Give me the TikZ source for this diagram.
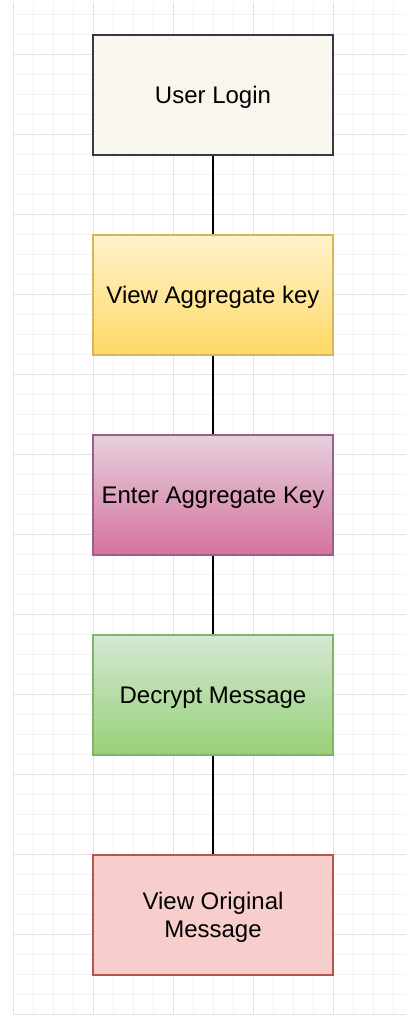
\documentclass[tikz,border=0pt]{standalone}
\usepackage{fontspec}
\setmainfont{Liberation Sans}
\usepackage{tikz}

\definecolor{minorgrid}{HTML}{F3F3F3}
\definecolor{majorgrid}{HTML}{E2E2E2}

\begin{document}
\begin{tikzpicture}[x = 1pt, y = -1pt,
        stepbox/.style = {draw, line width = 1.6pt, minimum width = 240pt,
            minimum height = 120pt, align = center, inner sep = 0pt,
            text depth = 0pt,
            font = \fontsize{24}{28}\selectfont},
        link/.style = {line width = 1.6pt, black}]
        \useasboundingbox (0,0) rectangle (406,1017);

        % background grid
        \foreach \x in {13,33,...,393}
            \draw [minorgrid, line width = 1pt] (\x,2) -- (\x,1015);
        \foreach \y in {14,34,...,1014}
            \draw [minorgrid, line width = 1pt] (13,\y) -- (406,\y);
        \foreach \x in {13,93,...,333}
            \draw [majorgrid, line width = 1pt] (\x,2) -- (\x,1015);
        \foreach \y in {54,134,...,1014}
            \draw [majorgrid, line width = 1pt] (13,\y) -- (406,\y);

        % steps
        \node [stepbox, draw = {rgb,255:red,54;green,57;blue,61},
               fill = {rgb,255:red,249;green,247;blue,237}]
              (login) at (213,95) {User Login};
        \node [stepbox, draw = {rgb,255:red,214;green,182;blue,86},
               top color = {rgb,255:red,255;green,242;blue,204},
               bottom color = {rgb,255:red,255;green,217;blue,102}]
              (viewkey) at (213,295) {View Aggregate key};
        \node [stepbox, draw = {rgb,255:red,153;green,97;blue,133},
               top color = {rgb,255:red,230;green,208;blue,222},
               bottom color = {rgb,255:red,213;green,115;blue,157}]
              (enterkey) at (213,495) {Enter Aggregate Key};
        \node [stepbox, draw = {rgb,255:red,130;green,179;blue,102},
               top color = {rgb,255:red,213;green,232;blue,212},
               bottom color = {rgb,255:red,151;green,208;blue,119}]
              (decrypt) at (213,695) {Decrypt Message};
        \node [stepbox, draw = {rgb,255:red,184;green,84;blue,80},
               fill = {rgb,255:red,248;green,206;blue,204}]
              (original) at (213,915) {View Original\\Message};

        % connectors
        \draw [link] (login) -- (viewkey);
        \draw [link] (viewkey) -- (enterkey);
        \draw [link] (enterkey) -- (decrypt);
        \draw [link] (decrypt) -- (original);
\end{tikzpicture}
\end{document}
